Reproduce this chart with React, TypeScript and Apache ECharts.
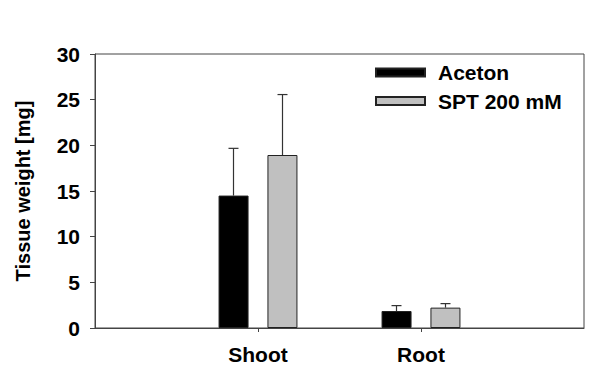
import React, { useEffect, useRef } from "react";
import * as echarts from "echarts";

const categories = ["Shoot", "Root"];
const seriesNames = ["Aceton", "SPT 200 mM"];
const acetonMean = [14.5, 1.86];
const acetonErr = [5.17, 0.59];
const sptMean = [18.94, 2.23];
const sptErr = [6.62, 0.44];
const yTicks = [0, 5, 10, 15, 20, 25, 30];

const FONT = "'Liberation Sans', Arial, sans-serif";
const FS = 21;

export default function App() {
  const ref = useRef<HTMLDivElement>(null);
  useEffect(() => {
    if (!ref.current) return;
    const chart = echarts.init(ref.current, undefined, { renderer: "svg" });
    const axisCats = ["", ...categories, ""];
    const pad = (arr: number[]) => [null, ...arr, null];
    const barW = 30;
    const offset = 24.5;
    const errSeries = (means: number[], errs: number[], dx: number, name: string) => ({
      type: "custom",
      name: name + "_err",
      z: 1,
      silent: true,
      data: means.map((m, i) => [i + 1, m, m + errs[i]]),
      renderItem: (params: any, api: any) => {
        const x = api.coord([api.value(0), api.value(1)]);
        const top = api.coord([api.value(0), api.value(2)]);
        const cx = x[0] + dx;
        return {
          type: "group",
          children: [
            { type: "line", shape: { x1: cx, y1: x[1], x2: cx, y2: top[1] }, style: { stroke: "#333", lineWidth: 1.2 } },
            { type: "line", shape: { x1: cx - 5, y1: top[1], x2: cx + 5, y2: top[1] }, style: { stroke: "#333", lineWidth: 1.2 } },
          ],
        };
      },
    });
    chart.setOption({
      animation: false,
      backgroundColor: "#ffffff",
      textStyle: { fontFamily: FONT },
      grid: { left: 95, top: 54, right: 27, bottom: 59, show: true, borderColor: "#444", borderWidth: 1, backgroundColor: "transparent" },
      legend: {
        left: 375,
        top: 62,
        padding: 0,
        orient: "vertical",
        itemWidth: 49,
        itemHeight: 8,
        itemGap: 7.5,
        icon: "rect",
        selectedMode: false,
        data: seriesNames,
        textStyle: { fontFamily: FONT, fontSize: FS, lineHeight: 20, fontWeight: "bold", color: "#000", padding: [0, 0, 0, 8] },
      },
      xAxis: {
        type: "category",
        data: axisCats,
        boundaryGap: false,
        axisLine: { lineStyle: { color: "#444", width: 1 } },
        axisTick: { length: 4, interval: (i: number, v: string) => v !== "", lineStyle: { color: "#444" } },
        axisLabel: { interval: 0, margin: 16, fontFamily: FONT, fontSize: FS, fontWeight: "bold", color: "#000" },
        splitLine: { show: false },
      },
      yAxis: {
        type: "value",
        min: yTicks[0],
        max: yTicks[yTicks.length - 1],
        interval: 5,
        name: "Tissue weight [mg]",
        nameLocation: "middle",
        nameGap: 62,
        nameRotate: 90,
        nameTextStyle: { fontFamily: FONT, fontSize: 20, fontWeight: "bold", color: "#000" },
        axisLine: { show: true, lineStyle: { color: "#444", width: 1 } },
        axisTick: { show: true, length: 5, lineStyle: { color: "#444" } },
        axisLabel: { margin: 15, fontFamily: FONT, fontSize: FS, fontWeight: "bold", color: "#000" },
        splitLine: { show: false },
      },
      series: [
        errSeries(acetonMean, acetonErr, -offset, seriesNames[0]),
        errSeries(sptMean, sptErr, offset, seriesNames[1]),
        {
          type: "bar",
          name: seriesNames[0],
          z: 2,
          data: pad(acetonMean),
          barWidth: barW,
          barGap: "63%",
          itemStyle: { color: "#000", borderColor: "#222", borderWidth: 1 },
        },
        {
          type: "bar",
          name: seriesNames[1],
          z: 2,
          data: pad(sptMean),
          barWidth: barW,
          barGap: "63%",
          itemStyle: { color: "#c0c0c0", borderColor: "#222", borderWidth: 1 },
        },
      ],
    });
    return () => chart.dispose();
  }, []);
  return <div ref={ref} style={{ width: 611, height: 387, position: "absolute", left: 0, top: 0 }} />;
}
